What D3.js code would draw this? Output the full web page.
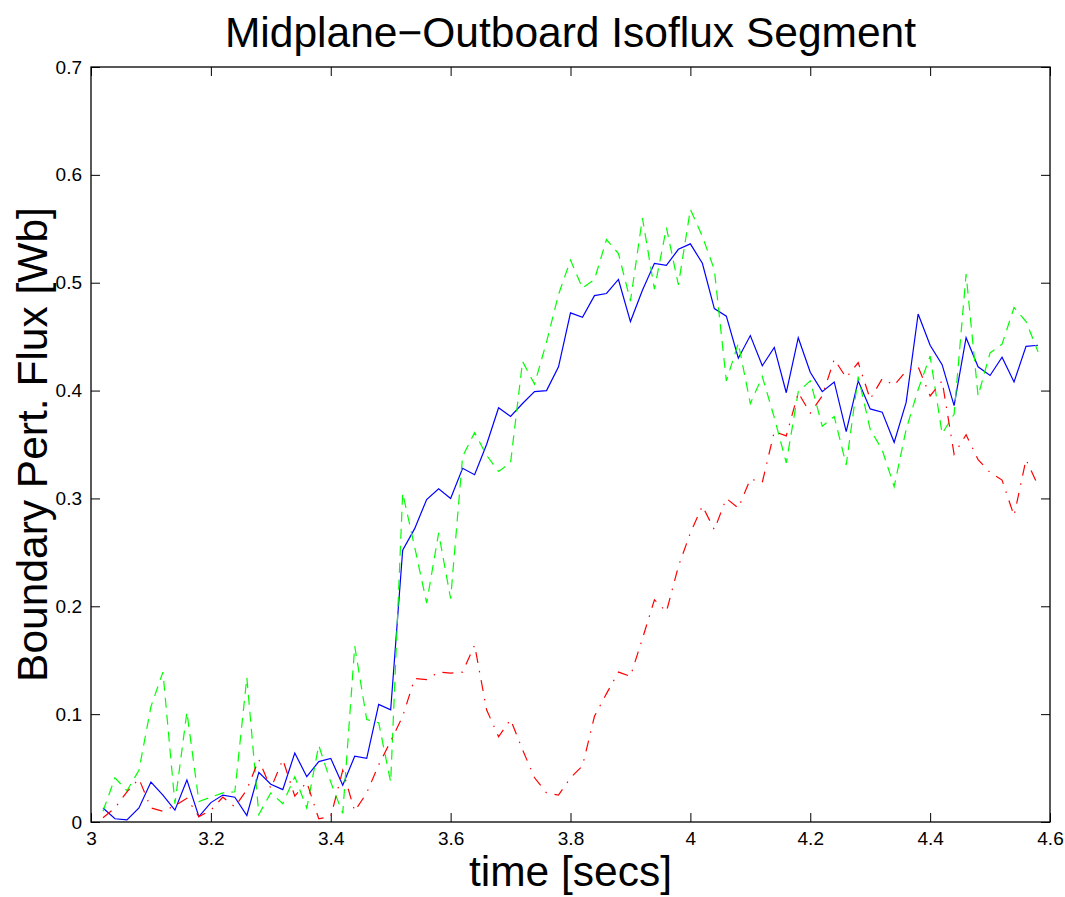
<!DOCTYPE html>
<html>
<head>
<meta charset="utf-8">
<script src="https://cdn.jsdelivr.net/npm/d3@7"></script>
<style>
  html, body { margin: 0; padding: 0; background: #fff; }
  svg { display: block; font-family: "Liberation Sans", Arial, Helvetica, sans-serif; }
  .tick text { font-size: 19px; fill: #000; }
  .domain { stroke: none; }
  .tick line { stroke: #000; stroke-width: 1; }
</style>
</head>
<body>
<svg id="chart" width="1065" height="897"></svg>
<script>
// Sample times [s]
const times = [
  3.02, 3.04, 3.06, 3.08, 3.10, 3.12, 3.14, 3.16, 3.18, 3.20,
  3.22, 3.24, 3.26, 3.28, 3.30, 3.32, 3.34, 3.36, 3.38, 3.40,
  3.42, 3.44, 3.46, 3.48, 3.50, 3.52, 3.54, 3.56, 3.58, 3.60,
  3.62, 3.64, 3.66, 3.68, 3.70, 3.72, 3.74, 3.76, 3.78, 3.80,
  3.82, 3.84, 3.86, 3.88, 3.90, 3.92, 3.94, 3.96, 3.98, 4.00,
  4.02, 4.04, 4.06, 4.08, 4.10, 4.12, 4.14, 4.16, 4.18, 4.20,
  4.22, 4.24, 4.26, 4.28, 4.30, 4.32, 4.34, 4.36, 4.38, 4.40,
  4.42, 4.44, 4.46, 4.48, 4.50, 4.52, 4.54, 4.56, 4.58
];

// Boundary perturbation flux [Wb], solid blue trace
const fluxBlue = [
  0.013, 0.003, 0.002, 0.013, 0.037, 0.025, 0.011, 0.039, 0.005, 0.018,
  0.025, 0.023, 0.006, 0.046, 0.035, 0.030, 0.064, 0.042, 0.056, 0.059,
  0.034, 0.061, 0.059, 0.109, 0.104, 0.252, 0.272, 0.299, 0.309, 0.300,
  0.328, 0.322, 0.350, 0.384, 0.376, 0.388, 0.399, 0.400, 0.422, 0.472,
  0.468, 0.488, 0.490, 0.503, 0.464, 0.493, 0.518, 0.516, 0.531, 0.536,
  0.518, 0.476, 0.469, 0.430, 0.451, 0.423, 0.440, 0.398, 0.449, 0.417,
  0.399, 0.408, 0.362, 0.409, 0.383, 0.380, 0.352, 0.389, 0.471, 0.442,
  0.424, 0.386, 0.449, 0.422, 0.414, 0.431, 0.408, 0.441, 0.442
];

// Dashed green trace
const fluxGreen = [
  0.010, 0.041, 0.029, 0.048, 0.107, 0.139, 0.017, 0.102, 0.019, 0.023,
  0.027, 0.028, 0.134, 0.007, 0.027, 0.017, 0.042, 0.013, 0.071, 0.037,
  0.008, 0.163, 0.095, 0.092, 0.037, 0.305, 0.255, 0.203, 0.268, 0.207,
  0.339, 0.361, 0.340, 0.325, 0.333, 0.427, 0.406, 0.445, 0.489, 0.521,
  0.495, 0.503, 0.540, 0.527, 0.483, 0.560, 0.494, 0.551, 0.498, 0.568,
  0.543, 0.512, 0.409, 0.444, 0.388, 0.413, 0.375, 0.333, 0.399, 0.409,
  0.367, 0.376, 0.331, 0.413, 0.364, 0.345, 0.311, 0.364, 0.401, 0.432,
  0.360, 0.378, 0.508, 0.395, 0.435, 0.443, 0.477, 0.464, 0.436
];

// Dash-dot red trace
const fluxRed = [
  0.004, 0.013, 0.028, 0.040, 0.013, 0.010, 0.015, 0.022, 0.005, 0.011,
  0.023, 0.014, 0.030, 0.058, 0.031, 0.058, 0.024, 0.037, 0.003, 0.005,
  0.048, 0.010, 0.027, 0.053, 0.075, 0.098, 0.133, 0.132, 0.139, 0.138,
  0.139, 0.164, 0.104, 0.079, 0.095, 0.067, 0.041, 0.027, 0.025, 0.041,
  0.052, 0.098, 0.119, 0.139, 0.135, 0.170, 0.206, 0.195, 0.237, 0.268,
  0.293, 0.271, 0.300, 0.291, 0.318, 0.315, 0.362, 0.358, 0.398, 0.379,
  0.395, 0.429, 0.412, 0.426, 0.392, 0.411, 0.405, 0.418, 0.422, 0.395,
  0.409, 0.341, 0.359, 0.336, 0.324, 0.317, 0.284, 0.336, 0.312
];

// Axis ticks
const xTicks = [3, 3.2, 3.4, 3.6, 3.8, 4, 4.2, 4.4, 4.6];
const xTickLabels = ["3", "3.2", "3.4", "3.6", "3.8", "4", "4.2", "4.4", "4.6"];
const yTicks = [0, 0.1, 0.2, 0.3, 0.4, 0.5, 0.6, 0.7];
const yTickLabels = ["0", "0.1", "0.2", "0.3", "0.4", "0.5", "0.6", "0.7"];

const titleText = "Midplane\u2212Outboard Isoflux Segment";
const xLabelText = "time [secs]";
const yLabelText = "Boundary Pert. Flux [Wb]";

// Layout
const plot = { left: 91, right: 1050, top: 67, bottom: 822 };
const tickLen = 9;

const svg = d3.select("#chart");
svg.append("rect").attr("width", 1065).attr("height", 897).attr("fill", "#fff");

const x = d3.scaleLinear().domain([3, 4.6]).range([plot.left, plot.right]);
const y = d3.scaleLinear().domain([0, 0.7]).range([plot.bottom, plot.top]);

// Axes with inward ticks on all four sides
svg.append("g")
  .attr("transform", `translate(0,${plot.bottom})`)
  .call(d3.axisBottom(x).tickValues(xTicks)
    .tickFormat((d, i) => xTickLabels[i])
    .tickSizeInner(-tickLen).tickSizeOuter(0).tickPadding(10));

svg.append("g")
  .attr("transform", `translate(${plot.left},0)`)
  .call(d3.axisLeft(y).tickValues(yTicks)
    .tickFormat((d, i) => yTickLabels[i])
    .tickSizeInner(-tickLen).tickSizeOuter(0).tickPadding(9));

svg.append("g")
  .attr("transform", `translate(0,${plot.top})`)
  .call(d3.axisTop(x).tickValues(xTicks).tickFormat("")
    .tickSizeInner(-tickLen).tickSizeOuter(0));

svg.append("g")
  .attr("transform", `translate(${plot.right},0)`)
  .call(d3.axisRight(y).tickValues(yTicks).tickFormat("")
    .tickSizeInner(-tickLen).tickSizeOuter(0));

svg.selectAll(".tick text").attr("font-family", null);
svg.selectAll("g").attr("font-size", null).attr("font-family", null);

// Plot box
svg.append("rect")
  .attr("x", plot.left).attr("y", plot.top)
  .attr("width", plot.right - plot.left).attr("height", plot.bottom - plot.top)
  .attr("fill", "none").attr("stroke", "#000").attr("stroke-width", 1.3);

// Traces
const line = d3.line().x(d => x(d[0])).y(d => y(d[1]));
const series = [
  { values: fluxBlue, color: "#0000ff", dash: null },
  { values: fluxGreen, color: "#00ff00", dash: "10,7" },
  { values: fluxRed, color: "#ff0000", dash: "11,8,1.5,8" }
];
series.forEach(s => {
  svg.append("path")
    .datum(times.map((t, i) => [t, s.values[i]]))
    .attr("d", line)
    .attr("fill", "none")
    .attr("stroke", s.color)
    .attr("stroke-width", 1.2)
    .attr("stroke-linejoin", "miter")
    .attr("stroke-dasharray", s.dash);
});

// Title and axis labels
svg.append("text")
  .attr("x", (plot.left + plot.right) / 2).attr("y", 47)
  .attr("text-anchor", "middle").attr("font-size", 42.5)
  .text(titleText);

svg.append("text")
  .attr("x", (plot.left + plot.right) / 2).attr("y", 886)
  .attr("text-anchor", "middle").attr("font-size", 42.5)
  .text(xLabelText);

svg.append("text")
  .attr("transform", `translate(47,${(plot.top + plot.bottom) / 2}) rotate(-90)`)
  .attr("text-anchor", "middle").attr("font-size", 42.5)
  .text(yLabelText);
</script>
</body>
</html>
